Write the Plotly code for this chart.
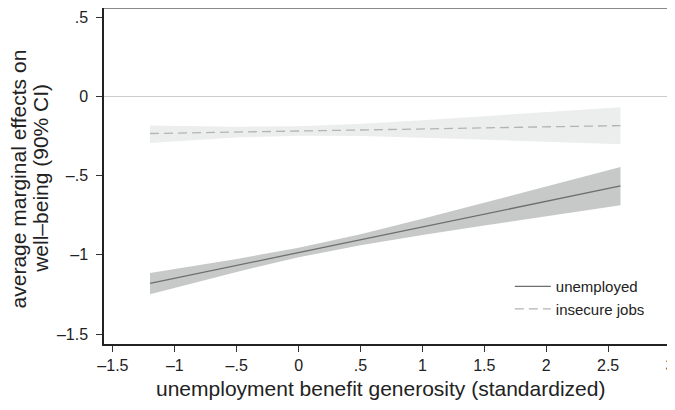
import plotly.graph_objects as go

# Data
x_vals = [-1.2, -0.5, 0, 0.5, 1, 1.5, 2, 2.6]

unemp_est = [-1.180, -1.067, -0.986, -0.905, -0.824, -0.744, -0.663, -0.566]
unemp_hi = [-1.115, -1.026, -0.956, -0.870, -0.773, -0.672, -0.570, -0.446]
unemp_lo = [-1.249, -1.108, -1.016, -0.940, -0.875, -0.816, -0.756, -0.688]

insec_est = [-0.235, -0.226, -0.219, -0.212, -0.206, -0.199, -0.193, -0.185]
insec_hi = [-0.185, -0.192, -0.189, -0.173, -0.151, -0.126, -0.100, -0.069]
insec_lo = [-0.295, -0.260, -0.249, -0.251, -0.261, -0.272, -0.286, -0.303]

x_ticks = [-1.5, -1, -0.5, 0, 0.5, 1, 1.5, 2, 2.5, 3]
x_ticktext = ["–1.5", "–1", "–.5", "0", ".5", "1", "1.5", "2", "2.5", "3"]
y_ticks = [0.5, 0, -0.5, -1, -1.5]
y_ticktext = [".5", "0", "–.5", "–1", "–1.5"]

x_title = "unemployment benefit generosity (standardized)"
y_title_lines = ["average marginal effects on", "well–being (90% CI)"]

FONT = "Liberation Sans, Arial, sans-serif"

fig = go.Figure()

# confidence bands
fig.add_trace(go.Scatter(x=x_vals + x_vals[::-1], y=insec_hi + insec_lo[::-1],
                         fill="toself", fillcolor="#eceeed", line=dict(width=0),
                         mode="lines", showlegend=False, hoverinfo="skip"))
fig.add_trace(go.Scatter(x=x_vals + x_vals[::-1], y=unemp_hi + unemp_lo[::-1],
                         fill="toself", fillcolor="#c7c9c8", line=dict(width=0),
                         mode="lines", showlegend=False, hoverinfo="skip"))

# estimate lines
fig.add_trace(go.Scatter(x=x_vals, y=unemp_est, mode="lines", name="unemployed",
                         line=dict(color="#6e6e6e", width=1.3)))
fig.add_trace(go.Scatter(x=x_vals, y=insec_est, mode="lines", name="insecure jobs",
                         line=dict(color="#b3b3b3", width=1.3, dash="9px,5px")))

annotations = [
    dict(text=y_title_lines[0], xref="paper", yref="paper", x=-0.1497, y=0.4926,
         textangle=-90, showarrow=False, xanchor="center", yanchor="middle",
         font=dict(size=21, family=FONT, color="#222")),
    dict(text=y_title_lines[1], xref="paper", yref="paper", x=-0.1121, y=0.4926,
         textangle=-90, showarrow=False, xanchor="center", yanchor="middle",
         font=dict(size=21, family=FONT, color="#222")),
    dict(text=x_title, xref="paper", yref="paper", x=0.4869, y=-0.131,
         showarrow=False, xanchor="center", yanchor="middle",
         font=dict(size=21, family=FONT, color="#222")),
]

fig.update_layout(
    width=667, height=394,
    margin=dict(l=96, r=0, t=0, b=58),
    paper_bgcolor="white", plot_bgcolor="white",
    font=dict(family=FONT, color="#222222"),
    legend=dict(x=0.7145, y=0.220, xanchor="left", yanchor="top",
                bgcolor="rgba(0,0,0,0)", font=dict(size=15, family=FONT),
                tracegroupgap=0, itemwidth=36),
    shapes=[dict(type="line", xref="paper", yref="paper", x0=0, x1=1, y0=1, y1=1,
                 line=dict(color="#888888", width=2))],
    annotations=annotations,
)

fig.update_xaxes(range=[-1.572, 3.016], tickmode="array", tickvals=x_ticks,
                 ticktext=x_ticktext, ticks="outside", ticklen=6, tickcolor="#333",
                 showline=True, linecolor="#222", linewidth=1.5, showgrid=False,
                 zeroline=False, tickfont=dict(size=16, family=FONT),
                 ticklabeloverflow="allow")
fig.update_yaxes(range=[-1.563, 0.557], tickmode="array", tickvals=y_ticks,
                 ticktext=y_ticktext, ticks="outside", ticklen=6, tickcolor="#333",
                 showline=True, linecolor="#222", linewidth=1.5, showgrid=False,
                 zeroline=True, zerolinecolor="#cccccc", zerolinewidth=1.2,
                 tickfont=dict(size=16, family=FONT), ticklabelstandoff=5)

fig.write_html("out.html")
